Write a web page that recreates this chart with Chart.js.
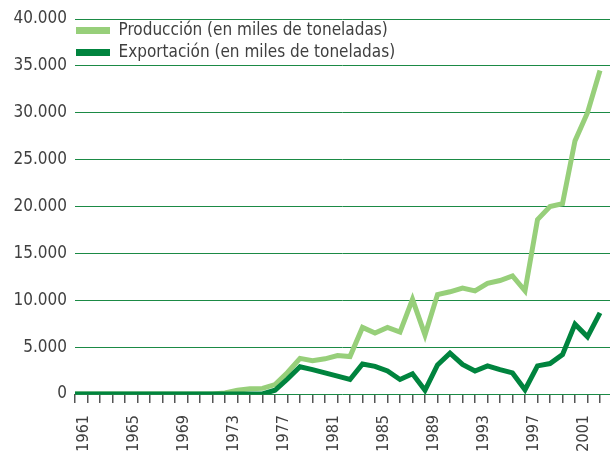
<!DOCTYPE html>
<html>
<head>
<meta charset="utf-8">
<script src="https://cdn.jsdelivr.net/npm/chart.js@4/dist/chart.umd.min.js"></script>
<style>
  html, body { margin: 0; padding: 0; background: #ffffff; }
  #wrap { width: 610px; height: 456px; position: relative; }
</style>
</head>
<body>
<div id="wrap"><canvas id="chart"></canvas></div>
<script>
// years 1960-2002
const years = [1960, 1961, 1962, 1963, 1964, 1965, 1966, 1967, 1968, 1969,
  1970, 1971, 1972, 1973, 1974, 1975, 1976, 1977, 1978, 1979,
  1980, 1981, 1982, 1983, 1984, 1985, 1986, 1987, 1988, 1989,
  1990, 1991, 1992, 1993, 1994, 1995, 1996, 1997, 1998, 1999,
  2000, 2001, 2002];

// miles de toneladas
const produccion = [0, 0, 0, 0, 0, 0, 0, 0, 0, 0,
  0, 0, 100, 400, 550, 600, 1000, 2300, 3800, 3550,
  3750, 4100, 4000, 7100, 6500, 7100, 6600, 10100, 6300, 10600,
  10900, 11300, 11000, 11800, 12100, 12600, 11000, 18600, 20000, 20300,
  27000, 30000, 34500];

const exportacion = [0, 0, 0, 0, 0, 0, 0, 0, 0, 0,
  0, 0, 0, 0, 0, 0, 400, 1600, 2900, 2600,
  2250, 1900, 1550, 3200, 2950, 2450, 1550, 2150, 400, 3100,
  4350, 3150, 2450, 3000, 2600, 2250, 450, 3000, 3250, 4200,
  7450, 6100, 8650];

// x labels shown (every 4th year)
const labelYears = [1961, 1965, 1969, 1973, 1977, 1981, 1985, 1989, 1993, 1997, 2001];
const yTicks = [0, 5000, 10000, 15000, 20000, 25000, 30000, 35000, 40000];

const seriesNames = ['Producción (en miles de toneladas)', 'Exportación (en miles de toneladas)'];

const lightGreen = '#97cf7a';
const darkGreen = '#00843e';
const textColor = '#404040';

Chart.defaults.font.family = "'DejaVu Sans Condensed', 'Liberation Sans', sans-serif";
Chart.defaults.color = textColor;

function toPoints(values) {
  return years.map((y, i) => ({ x: y, y: values[i] }));
}

function fmt(v) {
  return String(v).replace(/\B(?=(\d{3})+(?!\d))/g, '.');
}

// legend sits inside the plot, top-left
const legendInside = {
  id: 'legendInside',
  afterLayout(chart) {
    const lg = chart.legend;
    if (!lg) return;
    const h = lg.bottom - lg.top;
    const w = lg.right - lg.left;
    lg.top = chart.chartArea.top - 2;
    lg.bottom = lg.top + h;
    lg.left = chart.chartArea.left - 4;
    lg.right = lg.left + w;
  }
};

const ctx = document.getElementById('chart').getContext('2d');

new Chart(ctx, {
  type: 'line',
  data: {
    datasets: [{
      label: seriesNames[0],
      data: toPoints(produccion),
      borderColor: lightGreen,
      backgroundColor: lightGreen,
      borderWidth: 5,
      borderJoinStyle: 'miter',
      pointRadius: 0,
      tension: 0,
      order: 1
    }, {
      label: seriesNames[1],
      data: toPoints(exportacion),
      borderColor: darkGreen,
      backgroundColor: darkGreen,
      borderWidth: 5,
      borderJoinStyle: 'miter',
      pointRadius: 0,
      tension: 0,
      order: 0
    }]
  },
  plugins: [legendInside],
  options: {
    responsive: true,
    maintainAspectRatio: false,
    animation: false,
    layout: { padding: { top: 19, right: 0, left: 0, bottom: 0 } },
    plugins: {
      tooltip: { enabled: false },
      legend: {
        position: 'chartArea',
        align: 'start',
        labels: {
          boxWidth: 34,
          boxHeight: 7,
          padding: 5,
          color: textColor,
          font: { size: 17 },
          sort: (a, b) => a.datasetIndex - b.datasetIndex,
          generateLabels: (chart) => Chart.defaults.plugins.legend.labels.generateLabels(chart)
            .map(item => Object.assign(item, { lineWidth: 0, fillStyle: item.strokeStyle }))
        }
      }
    },
    scales: {
      x: {
        type: 'linear',
        min: 1960,
        max: 2002.8,
        border: { display: false },
        grid: {
          drawOnChartArea: false,
          drawTicks: true,
          tickLength: 9,
          color: '#555555',
          lineWidth: 1.5
        },
        ticks: {
          stepSize: 1,
          autoSkip: false,
          includeBounds: false,
          maxRotation: 90,
          minRotation: 90,
          padding: 12,
          labelOffset: -4,
          color: textColor,
          font: { size: 16 },
          callback: (v) => labelYears.includes(v) ? String(v) : ''
        },
        afterFit: (scale) => {
          scale.height = 62;
          scale.paddingLeft = 0;
          scale.paddingRight = 0;
        }
      },
      y: {
        min: 0,
        max: 40000,
        border: { display: false },
        grid: {
          color: '#1b8a45',
          lineWidth: 1,
          drawTicks: false
        },
        ticks: {
          stepSize: 5000,
          padding: 8,
          color: textColor,
          font: { size: 17 },
          callback: (v) => yTicks.includes(v) ? fmt(v) : ''
        },
        afterFit: (scale) => { scale.width = 75; }
      }
    }
  }
});
</script>
</body>
</html>
